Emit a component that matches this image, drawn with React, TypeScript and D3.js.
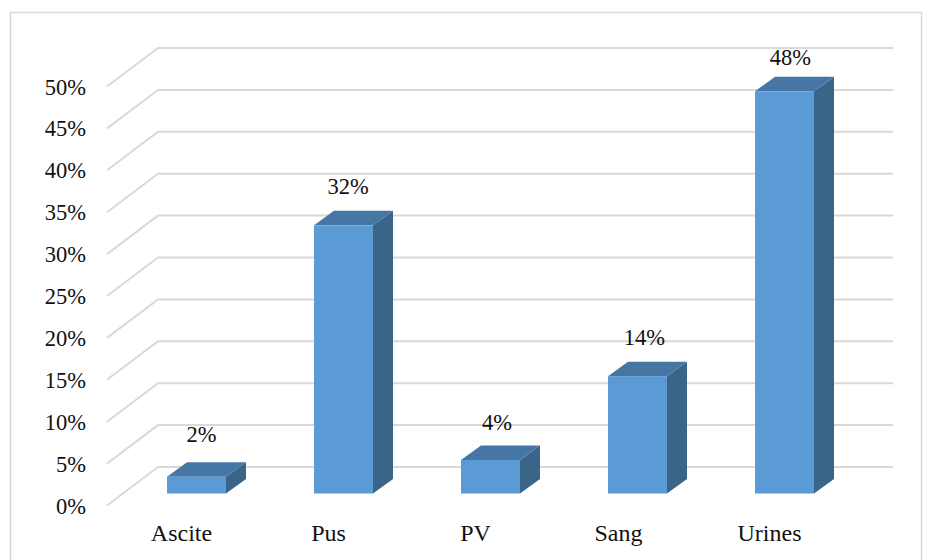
import React from "react";
import * as d3 from "d3";

const categories = ["Ascite", "Pus", "PV", "Sang", "Urines"];
const values = [2, 32, 4, 14, 48];
const yTicks = [0, 5, 10, 15, 20, 25, 30, 35, 40, 45, 50];

const WIDTH = 933;
const HEIGHT = 560;
const FONT = '"Liberation Serif", "Times New Roman", serif';
const GRID = "#d9d9d9";

// Back wall of the 3D plot; the side wall shears it forward by (wallDx, wallDy).
const backY = d3.scaleLinear().domain([0, 50]).range([467, 48]);
const backLeft = 158;
const backRight = 893;
const wallDx = -51;
const wallDy = 38.5;

// Bars stand on the middle of the floor and have their own shallower depth.
const barX = d3.scaleBand().domain(categories).range([167, 814]).paddingInner(0.5986).paddingOuter(0);
const barFloor = 493.5;
const depthDx = 20;
const depthDy = -14.5;
const barHeight = (v: number) => backY(0) - backY(v);

// Hand placement of the value labels and category names, in bar order.
const labelLift = [35, 31, 30, 31, 26];
const labelShift = [5, 4.5, 6.5, 7, 6];
const nameShift = [-15, -15, -15, -19, -15];

export default function App() {
  const bw = barX.bandwidth();
  const line = d3.line();
  return (
    <svg
      width={WIDTH}
      height={HEIGHT}
      style={{ position: "absolute", left: 0, top: 0, background: "#fff" }}
      fontFamily={FONT}
    >
      {/* chart frame */}
      <path d="M10.5 560V12.5H921.5V560" fill="none" stroke={GRID} strokeWidth={1.5} />

      {/* gridlines on side and back walls */}
      {yTicks.map((t) => (
        <path
          key={t}
          d={
            line([
              [backLeft + wallDx, backY(t) + wallDy],
              [backLeft, backY(t)],
              [backRight, backY(t)],
            ]) ?? ""
          }
          fill="none"
          stroke={GRID}
          strokeWidth={2}
        />
      ))}

      {yTicks.map((t) => (
        <text
          key={t}
          x={86}
          y={backY(t) + wallDy + 8}
          textAnchor="end"
          fontSize={22.5}
          fill="#111"
        >
          {t}%
        </text>
      ))}

      {categories.map((c, i) => {
        const x0 = barX(c) as number;
        const x1 = x0 + bw;
        const h = barHeight(values[i]);
        const top = barFloor - h;
        const pts = (p: [number, number][]) => p.map((q) => q.join(",")).join(" ");
        return (
          <g key={c}>
            <polygon
              points={pts([
                [x1, top],
                [x1 + depthDx, top + depthDy],
                [x1 + depthDx, barFloor + depthDy],
                [x1, barFloor],
              ])}
              fill="#3a6589"
            />
            <polygon
              points={pts([
                [x0, top],
                [x0 + depthDx, top + depthDy],
                [x1 + depthDx, top + depthDy],
                [x1, top],
              ])}
              fill="#4677a4"
            />
            <rect x={x0} y={top} width={bw} height={h} fill="#5b9bd5" />
            <text
              x={x0 + bw / 2 + labelShift[i]}
              y={top - labelLift[i]}
              textAnchor="middle"
              fontSize={22.5}
              fill="#111"
            >
              {values[i]}%
            </text>
            <text
              x={x0 + bw / 2 + nameShift[i]}
              y={541}
              textAnchor="middle"
              fontSize={24}
              fill="#111"
            >
              {c}
            </text>
          </g>
        );
      })}
    </svg>
  );
}
